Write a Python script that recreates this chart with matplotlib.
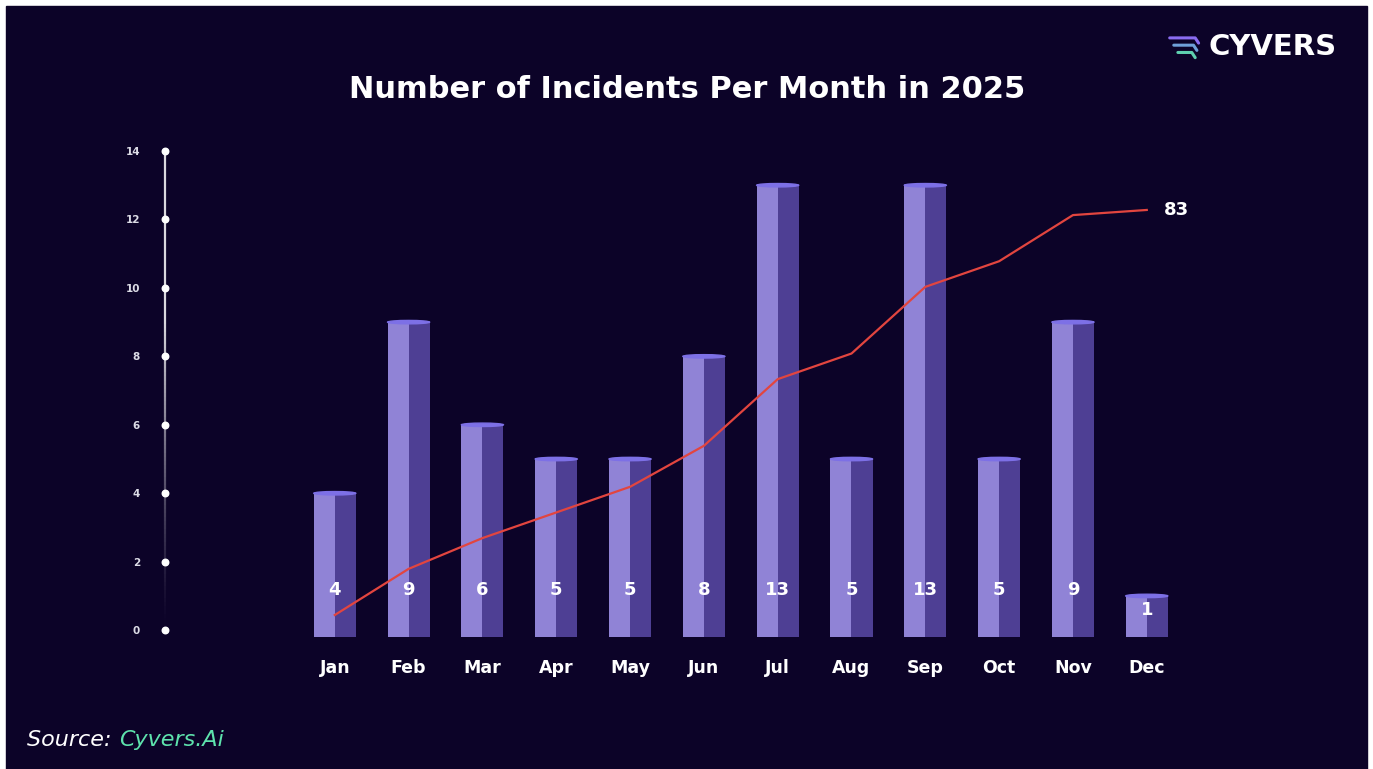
import numpy as np
import matplotlib
matplotlib.use("Agg")
import matplotlib.pyplot as plt
from matplotlib.patches import Rectangle, Ellipse
from matplotlib.collections import LineCollection

months = ["Jan", "Feb", "Mar", "Apr", "May", "Jun",
          "Jul", "Aug", "Sep", "Oct", "Nov", "Dec"]
incidents = [4, 9, 6, 5, 5, 8, 13, 5, 13, 5, 9, 1]
y_ticks = [0, 2, 4, 6, 8, 10, 12, 14]

cumulative = np.cumsum(incidents)

BG = "#0c0328"
LIGHT = "#9083d6"
DARK = "#4e3f94"
CAP = "#7d70e6"
RED = "#e2453f"
GREEN = "#5ee3ad"

plt.rcParams["font.family"] = ["DejaVu Sans"]

W, H = 1373, 769
fig = plt.figure(figsize=(W / 100, H / 100), dpi=100, facecolor="white")
# dark panel inside a thin white frame
fig.patches.append(Rectangle((6 / W, 0), (1367 - 6) / W, (H - 6) / H,
                             transform=fig.transFigure, color=BG, zorder=-10))

def px(x0, y0, x1, y1):
    return [x0 / W, 1 - y1 / H, (x1 - x0) / W, (y1 - y0) / H]

ax = fig.add_axes(px(165, 151, 1366, 637))
ax.patch.set_alpha(0)
ax.set_xlim(-2.30, 13.97)
ax.set_ylim(-0.2, 14)
for s in ax.spines.values():
    s.set_visible(False)

x = np.arange(len(months))
w = 0.57
ax.bar(x - w / 2, np.array(incidents) + 0.2, width=w / 2, bottom=-0.2,
       align="edge", color=LIGHT, zorder=2)
ax.bar(x, np.array(incidents) + 0.2, width=w / 2, bottom=-0.2,
       align="edge", color=DARK, zorder=2)
for xi, v in zip(x, incidents):
    ax.add_patch(Ellipse((xi, v), w, 0.1, color=CAP, zorder=3))
    ax.text(xi, min(1.17, v * 0.6), str(v), ha="center", va="center",
            color="white", fontsize=13, fontweight="bold", zorder=5)

# y axis: fading line with dots
x0 = ax.get_xlim()[0]
ys = np.linspace(0, 14, 120)
segs = [[(x0, ys[i]), (x0, ys[i + 1])] for i in range(len(ys) - 1)]
alphas = np.clip(ys[:-1] / 9, 0.03, 1) ** 1.3
lc = LineCollection(segs, colors=[(1, 1, 1, a * 0.85) for a in alphas],
                    linewidths=1.6, zorder=3)
lc.set_clip_on(False)
ax.add_collection(lc)
ax.scatter(np.full(len(y_ticks), x0), y_ticks, s=22, color="white",
           zorder=4, clip_on=False)
ax.set_yticks(y_ticks)
ax.set_yticklabels([str(t) for t in y_ticks])
ax.set_xticks(x)
ax.set_xticklabels(months)
ax.tick_params(axis="y", length=0, pad=18, labelsize=7.5, labelcolor="#dcdce6")
ax.tick_params(axis="x", length=0, pad=16, labelsize=12.5, labelcolor="white")
for lab in ax.get_xticklabels():
    lab.set_fontweight("bold")
for lab in ax.get_yticklabels():
    lab.set_fontweight("bold")

# cumulative line on its own scale
ax2 = ax.twinx()
ax2.set_ylim(-0.29, 94.5)
ax2.axis("off")
ax2.plot(x, cumulative, color=RED, lw=1.6, zorder=4)
ax2.annotate(str(cumulative[-1]), (x[-1], cumulative[-1]),
             xytext=(12, 0), textcoords="offset points", va="center",
             ha="left", color="white", fontsize=13, fontweight="bold")

fig.text(687 / W, 1 - 90 / H, "Number of Incidents Per Month in 2025",
         ha="center", va="center", color="white", fontsize=22,
         fontweight="bold")

# logo
fig.text(1208 / W, 1 - 47 / H, "CYVERS", ha="left", va="center",
         color="white", fontsize=21, fontweight="bold")
lax = fig.add_axes(px(1168, 34, 1202, 60))
lax.axis("off")
lax.set_xlim(0, 1)
lax.set_ylim(0, 1)
for i, c in enumerate(["#8a6cf0", "#6fa0d8", "#5fd0b0"]):
    lax.plot([0.05 + i * 0.12, 0.8 - i * 0.05, 0.9 - i * 0.05],
             [0.85 - i * 0.28, 0.85 - i * 0.28, 0.65 - i * 0.28],
             color=c, lw=2.2, solid_capstyle="round")

src = fig.text(27 / W, 1 - 740 / H, "Source: ", ha="left", va="center",
               color="white", fontsize=16, style="italic")
fig.canvas.draw()
bb = src.get_window_extent()
fig.text(bb.x1 / W, 1 - 740 / H, "Cyvers.Ai", ha="left", va="center",
         color=GREEN, fontsize=16, style="italic")

fig.savefig("out.png", dpi=100, facecolor=fig.get_facecolor())
